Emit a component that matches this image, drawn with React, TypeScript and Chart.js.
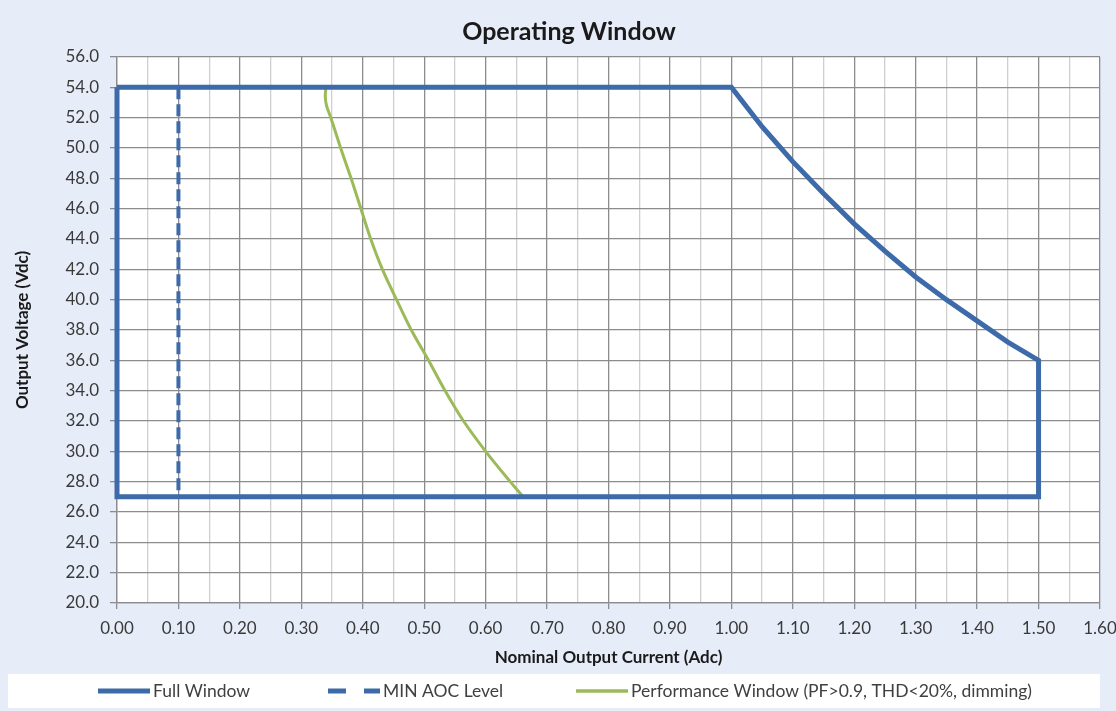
import React, { useEffect, useRef } from "react";
import { Chart, registerables } from "chart.js";

Chart.register(...registerables);

// ---------- data ----------
const fullWindowCurrent = [0, 1.0, 1.05, 1.1, 1.15, 1.2, 1.25, 1.3, 1.35, 1.4, 1.45, 1.5, 1.5, 0, 0];
const fullWindowVoltage = [54, 54, 51.4, 49.1, 47.0, 45.0, 43.2, 41.5, 40.0, 38.6, 37.2, 36.0, 27, 27, 54];

const minAocCurrent = [0.1, 0.1];
const minAocVoltage = [54, 27];

const perfCurrent = [0.34, 0.339, 0.341, 0.348, 0.364, 0.381, 0.397, 0.413, 0.432, 0.455, 0.479, 0.507, 0.534, 0.564, 0.6, 0.64, 0.661];
const perfVoltage = [54, 53.4, 52.8, 52, 50, 48, 46, 44, 42, 40, 38, 36, 34, 32, 30, 28, 27];

const seriesLabels = [
  "Full Window",
  "MIN AOC Level",
  "Performance Window (PF>0.9, THD<20%, dimming)",
];

const xMin = 0;
const xMax = 1.6;
const xStep = 0.05;
const yMin = 20;
const yMax = 56;
const yStep = 2;

const chartTitle = "Operating Window";
const xTitle = "Nominal Output Current (Adc)";
const yTitle = "Output Voltage (Vdc)";

const toPoints = (xs: number[], ys: number[]) => xs.map((x, i) => ({ x, y: ys[i] }));

const FONT = "Lato, 'Open Sans', sans-serif";
const BLUE = "#3d6aa8";
const GREEN = "#9bbb59";

const isMajorX = (v: number) => Math.round(v * 100) % 10 === 0;

const backgroundPlugin = {
  id: "bgPlugin",
  beforeDraw(chart: any) {
    const { ctx, chartArea, width, height } = chart;
    ctx.save();
    ctx.fillStyle = "#e7edf8";
    ctx.fillRect(0, 0, width, height);
    ctx.fillStyle = "#ffffff";
    ctx.fillRect(chartArea.left, chartArea.top, chartArea.right - chartArea.left, chartArea.bottom - chartArea.top);
    ctx.restore();
  },
};

const legendPlugin = {
  id: "customLegend",
  afterDraw(chart: any) {
    const { ctx, width, height } = chart;
    const boxTop = height - 37;
    const boxH = 34;
    ctx.save();
    ctx.fillStyle = "#ffffff";
    ctx.fillRect(8, boxTop, width - 24, boxH);
    const cy = boxTop + boxH / 2;
    const starts = [98, 328, 576];
    chart.data.datasets.forEach((ds: any, i: number) => {
      const x = starts[i];
      ctx.strokeStyle = ds.borderColor;
      ctx.lineWidth = i === 2 ? 3.5 : 5;
      ctx.setLineDash(i === 1 ? [18, 18] : []);
      ctx.beginPath();
      ctx.moveTo(x, cy);
      ctx.lineTo(x + 52, cy);
      ctx.stroke();
      ctx.setLineDash([]);
      ctx.fillStyle = "#404040";
      ctx.font = `17.5px ${FONT}`;
      ctx.textBaseline = "middle";
      ctx.textAlign = "left";
      ctx.fillText(ds.label, x + 55, cy);
    });
    ctx.restore();
  },
};

export default function App() {
  const canvasRef = useRef<HTMLCanvasElement | null>(null);

  useEffect(() => {
    if (!canvasRef.current) return;
    const chart = new Chart(canvasRef.current, {
      type: "line",
      data: {
        datasets: [
          {
            label: seriesLabels[0],
            data: toPoints(fullWindowCurrent, fullWindowVoltage),
            borderColor: BLUE,
            borderWidth: 5,
            pointRadius: 0,
            tension: 0,
            fill: false,
            clip: false as any,
            borderJoinStyle: "miter",
          },
          {
            label: seriesLabels[1],
            data: toPoints(minAocCurrent, minAocVoltage),
            borderColor: BLUE,
            borderWidth: 4,
            borderDash: [12, 5],
            pointRadius: 0,
            fill: false,
            clip: false as any,
          },
          {
            label: seriesLabels[2],
            data: toPoints(perfCurrent, perfVoltage),
            borderColor: GREEN,
            borderWidth: 3,
            pointRadius: 0,
            tension: 0.3,
            fill: false,
            clip: false as any,
          },
        ],
      },
      options: {
        animation: false,
        responsive: true,
        maintainAspectRatio: false,
        layout: { padding: { left: 38, right: 16, top: 0, bottom: 39 } },
        plugins: {
          legend: { display: false },
          tooltip: { enabled: false },
          title: {
            display: true,
            text: chartTitle,
            color: "#1a1a1a",
            font: { family: FONT, size: 25, weight: "bold" },
            padding: { top: 17, bottom: 10 },
          },
        },
        scales: {
          x: {
            type: "linear",
            min: xMin,
            max: xMax,
            ticks: {
              stepSize: xStep,
              autoSkip: false,
              maxRotation: 0,
              padding: 9,
              color: "#3a3a3a",
              font: { family: FONT, size: 17 },
              callback: (v: any) => (isMajorX(Number(v)) ? Number(v).toFixed(2) : ""),
            },
            grid: {
              color: (c: any) => (isMajorX(c.tick.value) ? "#8c8c8c" : "#cfcfcf"),
              tickColor: (c: any) => (isMajorX(c.tick.value) ? "#8c8c8c" : "rgba(0,0,0,0)"),
              tickLength: 6,
              lineWidth: 1.3,
            },
            border: { color: "#8c8c8c", width: 1.3 },
            title: {
              display: true,
              text: xTitle,
              color: "#1a1a1a",
              font: { family: FONT, size: 17, weight: "bold" },
              padding: { top: 0, bottom: 4 },
            },
            afterFit: (s: any) => {
              s.height = 69;
              s.paddingRight = 0;
              s.paddingLeft = 0;
            },
          },
          y: {
            type: "linear",
            min: yMin,
            max: yMax,
            ticks: {
              stepSize: yStep,
              padding: 11,
              color: "#3a3a3a",
              font: { family: FONT, size: 17 },
              callback: (v: any) => Number(v).toFixed(1),
            },
            grid: {
              color: "#8c8c8c",
              tickColor: "#8c8c8c",
              tickLength: 7,
              lineWidth: 1.3,
            },
            border: { color: "#8c8c8c", width: 1.3 },
            title: {
              display: true,
              text: yTitle,
              color: "#1a1a1a",
              font: { family: FONT, size: 17, weight: "bold" },
              padding: { top: -26, bottom: 0 },
            },
            afterFit: (s: any) => {
              s.width = 79;
            },
          },
        },
      },
      plugins: [backgroundPlugin, legendPlugin],
    });
    return () => chart.destroy();
  }, []);

  return (
    <div style={{ position: "absolute", left: 0, top: 0, width: 1116, height: 711 }}>
      <canvas ref={canvasRef} />
    </div>
  );
}
